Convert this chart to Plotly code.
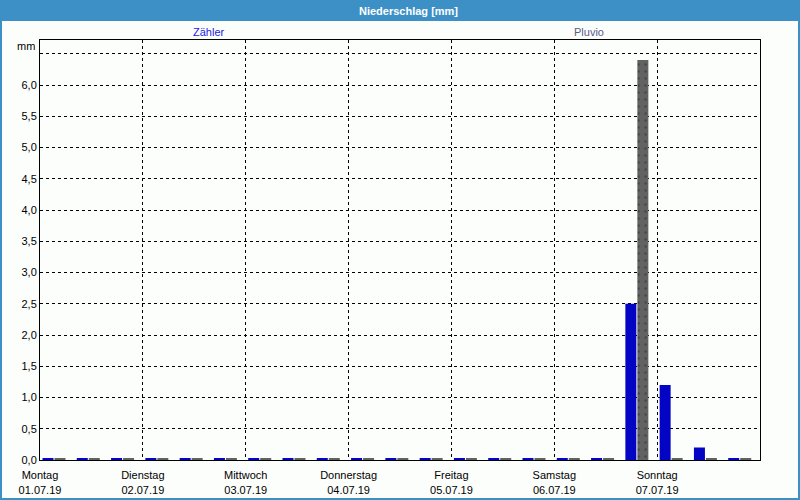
import plotly.graph_objects as go

# ---- data ----
day_names = ["Montag", "Dienstag", "Mittwoch", "Donnerstag", "Freitag", "Samstag", "Sonntag"]
day_dates = ["01.07.19", "02.07.19", "03.07.19", "04.07.19", "05.07.19", "06.07.19", "07.07.19"]
# 3 intervals (8 h) per day, hours since 01.07.19 00:00
slot_hours = [0, 8, 16, 24, 32, 40, 48, 56, 64, 72, 80, 88, 96, 104, 112, 120, 128, 136, 144, 152, 160]
zaehler = [0.025, 0.025, 0.025, 0.025, 0.025, 0.025, 0.025, 0.025, 0.025, 0.025, 0.025, 0.025, 0.025, 0.025, 0.025,
           0.025, 0.025, 2.5, 1.2, 0.2, 0.025]
pluvio = [0.025, 0.025, 0.025, 0.025, 0.025, 0.025, 0.025, 0.025, 0.025, 0.025, 0.025, 0.025, 0.025, 0.025, 0.025,
          0.025, 0.025, 6.4, 0.025, 0.025, 0.025]
y_ticks = [0.0, 0.5, 1.0, 1.5, 2.0, 2.5, 3.0, 3.5, 4.0, 4.5, 5.0, 5.5, 6.0, 6.5]
y_labels = ["0,0", "0,5", "1,0", "1,5", "2,0", "2,5", "3,0", "3,5", "4,0", "4,5", "5,0", "5,5", "6,0", ""]
day_ticks = [0, 24, 48, 72, 96, 120, 144]

# ---- layout constants ----
W, H = 800, 500
ML, MR, MT, MB = 40, 40, 40, 40
PW, PH = W - ML - MR, H - MT - MB
FONT = "Liberation Sans"
BG = "#fcfefc"
BAR_BLUE = "#0404c4"
BAR_GRAY = "#626262"
px_h = 168 / PW  # hours per pixel

fig = go.Figure()
fig.add_trace(go.Bar(
    x=slot_hours, y=zaehler, name="Zähler",
    offset=2.5 * px_h, width=11 * px_h,
    marker=dict(color=BAR_BLUE, line=dict(width=0)),
))
fig.add_trace(go.Bar(
    x=slot_hours, y=pluvio, name="Pluvio",
    offset=14.5 * px_h, width=11 * px_h,
    marker=dict(color=BAR_GRAY, line=dict(width=0),
                pattern=dict(shape=".", fgcolor="#2a2a2a", bgcolor=BAR_GRAY, size=7, solidity=0.1)),
))

fx = lambda p: (p - ML) / PW
fy = lambda p: (H - MB - p) / PH

shapes = [
    # title bar
    dict(type="rect", xref="paper", yref="paper", x0=fx(0), x1=fx(W), y0=fy(21), y1=fy(0),
         fillcolor="#3d90c5", line=dict(width=0), layer="above"),
    # window border
    dict(type="line", xref="paper", yref="paper", x0=fx(1), x1=fx(1), y0=fy(H), y1=fy(0),
         line=dict(color="#3d90c5", width=2)),
    dict(type="line", xref="paper", yref="paper", x0=fx(W - 1), x1=fx(W - 1), y0=fy(H), y1=fy(0),
         line=dict(color="#3d90c5", width=2)),
    dict(type="line", xref="paper", yref="paper", x0=fx(0), x1=fx(W), y0=fy(H - 1), y1=fy(H - 1),
         line=dict(color="#3d90c5", width=2)),
]

annotations = [
    dict(text="<b>Niederschlag [mm]</b>", xref="paper", yref="paper", x=fx(408), y=fy(10.5),
         xanchor="center", yanchor="middle", showarrow=False, font=dict(family=FONT, size=11, color="white")),
    dict(text="Zähler", xref="paper", yref="paper", x=fx(209), y=fy(32),
         xanchor="center", yanchor="middle", showarrow=False, font=dict(family=FONT, size=11, color="#1a1ae6")),
    dict(text="Pluvio", xref="paper", yref="paper", x=fx(589), y=fy(32),
         xanchor="center", yanchor="middle", showarrow=False, font=dict(family=FONT, size=11, color="#5a5a8e")),
    dict(text="mm", xref="paper", yref="paper", x=fx(37), y=fy(46),
         xanchor="right", yanchor="middle", showarrow=False, font=dict(family=FONT, size=11, color="black")),
]

fig.update_layout(
    width=W, height=H,
    margin=dict(l=ML, r=MR, t=MT, b=MB, pad=0, autoexpand=False),
    paper_bgcolor=BG, plot_bgcolor=BG,
    showlegend=False,
    barmode="overlay",
    font=dict(family=FONT, size=11, color="black"),
    shapes=shapes, annotations=annotations,
    xaxis=dict(
        range=[0, 168], tickvals=day_ticks,
        ticktext=[f"{n}<br>{d}" for n, d in zip(day_names, day_dates)],
        showgrid=True, gridcolor="black", gridwidth=1, griddash="3px,3px",
        showline=True, linecolor="black", linewidth=1, mirror=True,
        ticks="", zeroline=False, fixedrange=True, ticklabelstandoff=5, automargin=False,
        tickfont=dict(family=FONT, size=11, color="black"),
    ),
    yaxis=dict(
        range=[0, PH / 62.5], tickvals=y_ticks, ticktext=y_labels,
        showgrid=True, gridcolor="black", gridwidth=1, griddash="3px,3px",
        showline=True, linecolor="black", linewidth=1, mirror=True,
        ticks="", zeroline=False, fixedrange=True, automargin=False,
        tickfont=dict(family=FONT, size=11, color="black"),
    ),
)

fig.write_html("out.html", config={"displayModeBar": False})
